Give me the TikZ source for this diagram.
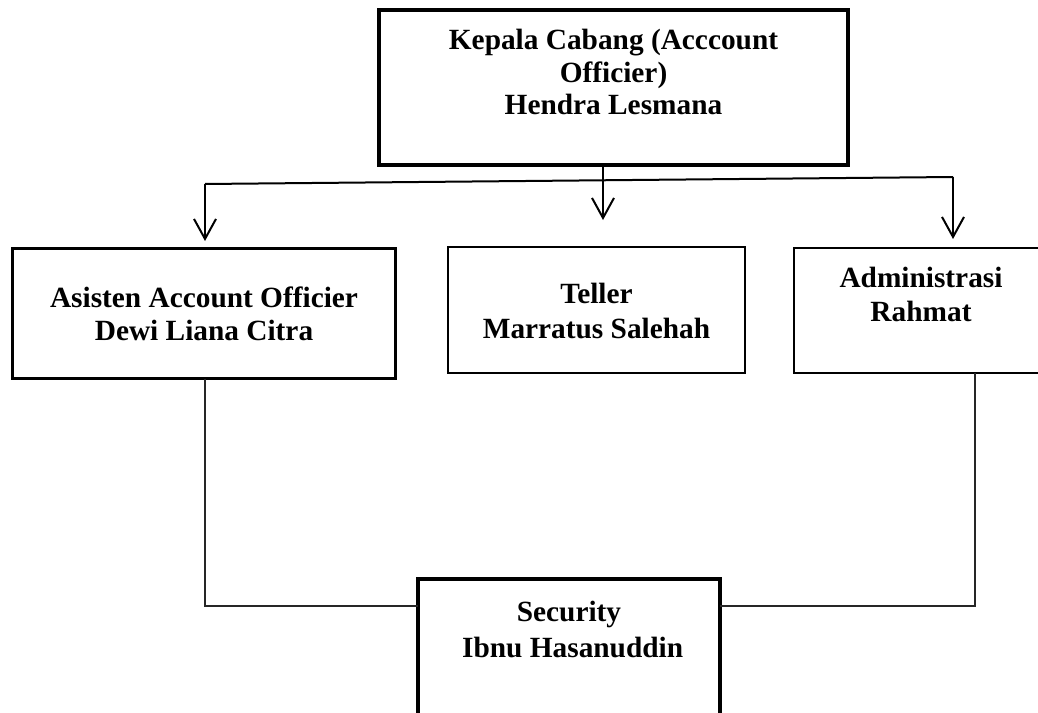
\documentclass[tikz,border=0pt]{standalone}
\usepackage{fontspec}
\setmainfont{Liberation Serif}
\usetikzlibrary{arrows.meta}
\tikzset{
  box/.style={draw=black, rectangle, inner sep=0pt, outer sep=0pt},
  heavybox/.style={box, line width=3pt},
  midbox/.style={box, line width=2.2pt},
  lbl/.style={anchor=base, align=center, inner sep=0pt, font=\bfseries\fontsize{22}{#1}\selectfont},
  arr/.style={line width=1.5pt, -{Straight Barb[length=15pt, width=16.5pt, line width=1.5pt]}},
  trunk/.style={line width=1.5pt},
  conn/.style={line width=0.9pt, black!85}
}
\begin{document}
\begin{tikzpicture}[x=0.75pt, y=-0.75pt]
\clip (0,0) rectangle (1038,713);
\fill[white] (0,0) rectangle (1038,713);

% boxes
\node[heavybox, minimum width=351.75pt, minimum height=116.25pt] (kc) at (613.5,87.5) {};
\node[midbox, minimum width=287.25pt, minimum height=97.5pt] (aao) at (204,313.5) {};
\node[midbox, minimum width=222.75pt, minimum height=94.5pt] (tel) at (596.5,310) {};
\node[midbox, minimum width=190.5pt, minimum height=93.75pt] (adm) at (921,310.5) {};
\node[heavybox, minimum width=226.5pt, minimum height=135.75pt] (sec) at (569,669.5) {};

% labels (anchor base = baseline of the last line)
\node[lbl=24.4pt] (kct) at (613.5,115) {Kepala Cabang (Acccount\\Officier)\\Hendra Lesmana};
\node[lbl=24.75pt] (aaot) at (204,340) {Asisten Account Officier\\Dewi Liana Citra};
\node[lbl=26.25pt] (telt) at (596.5,338) {Teller\\Marratus Salehah};
\node[lbl=25.5pt] (admt) at (921,321) {Administrasi\\Rahmat};
\node[lbl=27pt] (sect) at (569,657) {Security\\\ Ibnu Hasanuddin};

% top distribution
\coordinate (hl) at (205,184);
\coordinate (hr) at (953,177);
\coordinate (ltip) at (205,241);
\coordinate (mtip) at (603,220);
\coordinate (rtip) at (953,239);
\draw[trunk] (hl) -- (hr);
\draw[arr] (kc.south -| mtip) -- (mtip);
\draw[arr] (hl) -- (ltip);
\draw[arr] (hr) -- (rtip);

% bottom connectors
\coordinate (lj) at (205,606);
\coordinate (rj) at (975,606);
\draw[conn] (aao.south -| lj) -- (lj) -- (lj -| sec.west);
\draw[conn] (adm.south -| rj) -- (rj) -- (rj -| sec.east);
\end{tikzpicture}
\end{document}
